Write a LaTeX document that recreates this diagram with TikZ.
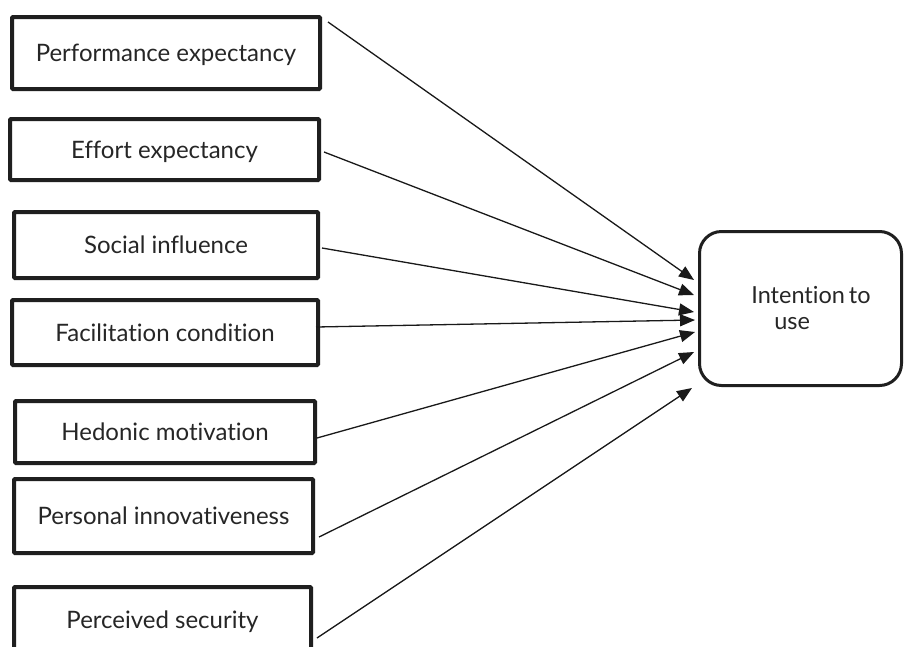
\documentclass[tikz,border=0pt]{standalone}
\usepackage{fontspec}
\setmainfont{Lato}[Ligatures=NoCommon]
\usetikzlibrary{arrows.meta,calc}
\begin{document}
\begin{tikzpicture}[x=1pt,y=-1pt,
  factor/.style={draw=black!88, line width=4pt, rectangle, rounded corners=1pt, inner sep=0pt,
    text height=22pt, text depth=5pt,
    font=\fontsize{24}{28}\selectfont, text=black!85},
  outcome/.style={draw=black!88, line width=3pt, rectangle, rounded corners=22pt, inner sep=0pt,
    minimum width=202pt, minimum height=154pt,
    font=\fontsize{23.5}{26}\selectfont, text=black!85},
  link/.style={line width=1.3pt, draw=black!90, -{Triangle[length=15pt,width=12pt]}}]
\useasboundingbox[fill=white] (0,0) rectangle (904,646);

\node[factor, minimum width=308pt, minimum height=72pt] (pe) at (166,53) {Performance expectancy};
\node[factor, minimum width=309pt, minimum height=61pt] (ee) at (164.5,149.5) {Effort expectancy};
\node[factor, minimum width=304pt, minimum height=66pt] (si) at (166,245) {Social influence};
\node[factor, minimum width=306pt, minimum height=65pt] (fc) at (165,332.5) {Facilitation condition};
\node[factor, minimum width=300pt, minimum height=62pt] (hm) at (165,432) {Hedonic motivation};
\node[factor, minimum width=299pt, minimum height=74pt] (pi) at (163.5,516) {Personal innovativeness};
\node[factor, minimum width=297pt, minimum height=66pt] (ps) at (162.5,620) {Perceived security};

\node[outcome] (itu) at (800.5,308.5) {\vbox{\baselineskip=26pt
  \hbox{\kern21pt Intention\kern-2pt\ to}\hbox{\kern44pt use}}};

\draw[link] ($(pe.north east)+(6,7)$) -- ($(itu.west)+(-4,-28.5)$);
\draw[link] ($(ee.east)+(3,2.5)$) -- ($(itu.west)+(-4,-13.5)$);
\draw[link] ($(si.east)+(2,3)$) -- ($(itu.west)+(-4,3.5)$);
\draw[link] ($(fc.east)+(-4,-5.5)$) -- ($(itu.west)+(-3,11.5)$);
\draw[link] ($(hm.east)+(0,6)$) -- ($(itu.west)+(-3,23.5)$);
\draw[link] ($(pi.east)+(4,21)$) -- ($(itu.west)+(-4,43.5)$);
\draw[link] ($(ps.east)+(4,18)$) -- ($(itu.west)+(-6,79.5)$);
\end{tikzpicture}
\end{document}
